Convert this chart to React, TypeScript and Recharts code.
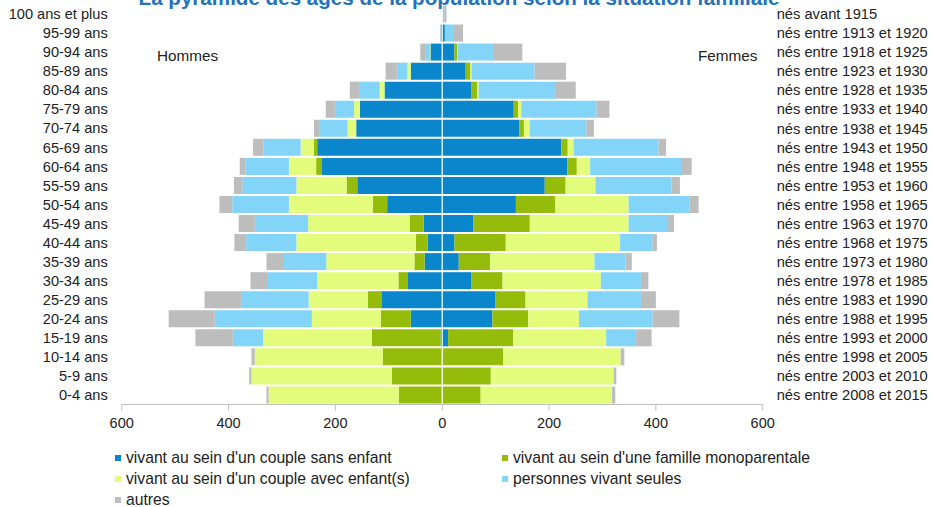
import React from 'react';
import { BarChart, Bar, XAxis, YAxis, ReferenceLine } from 'recharts';

// Age groups, youngest first (drawn bottom to top)
const ageGroups = [
  '0-4 ans', '5-9 ans', '10-14 ans', '15-19 ans', '20-24 ans', '25-29 ans',
  '30-34 ans', '35-39 ans', '40-44 ans', '45-49 ans', '50-54 ans', '55-59 ans',
  '60-64 ans', '65-69 ans', '70-74 ans', '75-79 ans', '80-84 ans', '85-89 ans',
  '90-94 ans', '95-99 ans', '100 ans et plus',
];

const cohorts = [
  'nés entre 2008 et 2015', 'nés entre 2003 et 2010', 'nés entre 1998 et 2005',
  'nés entre 1993 et 2000', 'nés entre 1988 et 1995', 'nés entre 1983 et 1990',
  'nés entre 1978 et 1985', 'nés entre 1973 et 1980', 'nés entre 1968 et 1975',
  'nés entre 1963 et 1970', 'nés entre 1958 et 1965', 'nés entre 1953 et 1960',
  'nés entre 1948 et 1955', 'nés entre 1943 et 1950', 'nés entre 1938 et 1945',
  'nés entre 1933 et 1940', 'nés entre 1928 et 1935', 'nés entre 1923 et 1930',
  'nés entre 1918 et 1925', 'nés entre 1913 et 1920', 'nés avant 1915',
];

// Hommes
const menCoupleSansEnfant = [0, 0, 0, 3, 59, 114, 64, 33, 27, 35, 103, 159, 225, 234, 161, 154, 108, 59, 22, 2, 0];
const menMonoparentale = [81, 94, 111, 129, 56, 25, 18, 19, 22, 26, 27, 20, 11, 6, 0, 0, 0, 0, 0, 0, 0];
const menCoupleAvecEnfants = [244, 263, 240, 203, 129, 111, 152, 165, 224, 190, 157, 94, 51, 25, 16, 11, 9, 6, 1, 0, 0];
const menSeuls = [0, 0, 0, 57, 182, 125, 94, 81, 94, 100, 106, 101, 81, 70, 52, 36, 39, 20, 9, 1, 0];
const menAutres = [4, 4.5, 6, 70, 86, 70, 31, 31, 22, 30, 24, 16, 11, 19, 11, 17, 17, 21, 9, 1, 0.5];

// Femmes
const womenCoupleSansEnfant = [0, 0, 0, 11, 94, 100, 55, 31, 23, 58, 138, 192, 234, 223, 144, 134, 55, 44, 23, 5, 0];
const womenMonoparentale = [72, 91, 114, 122, 67, 56, 58, 59, 96, 106, 74, 39, 18, 12, 9, 8, 11, 9, 5, 0, 0];
const womenCoupleAvecEnfants = [246, 230, 220, 174, 95, 116, 184, 195, 214, 185, 137, 56, 25, 11, 11, 6, 2, 2, 1, 0, 0];
const womenSeules = [0, 0, 0, 56, 138, 100, 75, 58, 61, 72, 114, 142, 172, 159, 106, 141, 143, 118, 66, 17, 4];
const womenAutres = [6, 5, 7, 29, 50, 28, 14, 12, 8, 13, 17, 16, 18, 14, 14, 24, 39, 59, 55, 17, 4];

const xTicks = [-600, -400, -200, 0, 200, 400, 600];

const categories = [
  { key: 'sansEnfant', label: "vivant au sein d'un couple sans enfant", color: '#0A86CD' },
  { key: 'mono', label: "vivant au sein d'une famille monoparentale", color: '#95BC0A' },
  { key: 'avecEnfants', label: "vivant au sein d'un couple avec enfant(s)", color: '#E4FC7C' },
  { key: 'seuls', label: 'personnes vivant seules', color: '#82D5F8' },
  { key: 'autres', label: 'autres', color: '#BDBDBD' },
];

const menSeries = [menCoupleSansEnfant, menMonoparentale, menCoupleAvecEnfants, menSeuls, menAutres];
const womenSeries = [womenCoupleSansEnfant, womenMonoparentale, womenCoupleAvecEnfants, womenSeules, womenAutres];

const data = ageGroups.map((age, i) => {
  const row: Record<string, string | number> = { age, cohort: cohorts[i] };
  categories.forEach((c, k) => {
    row['h_' + c.key] = -menSeries[k][i];
    row['f_' + c.key] = womenSeries[k][i];
  });
  return row;
});

const FONT = '"Liberation Sans", Arial, sans-serif';
const TEXT = '#222222';

// legend layout: two columns, three rows
const legendOrder = [
  { cat: categories[0], col: 0, row: 0 },
  { cat: categories[1], col: 1, row: 0 },
  { cat: categories[2], col: 0, row: 1 },
  { cat: categories[3], col: 1, row: 1 },
  { cat: categories[4], col: 0, row: 2 },
];

export default function App() {
  return (
    <div style={{ position: 'absolute', left: 0, top: 0, width: 932, height: 507, background: '#fff', fontFamily: FONT, overflow: 'hidden' }}>
      <BarChart
        width={932}
        height={507}
        data={data}
        layout="vertical"
        stackOffset="sign"
        barCategoryGap={1}
        margin={{ top: 4.5, right: 0, left: 6, bottom: 72.5 }}
      >
        <XAxis
          type="number"
          domain={[-600, 600]}
          ticks={xTicks}
          tickFormatter={(v: number) => String(Math.abs(v))}
          height={30}
          axisLine={{ stroke: '#BFBFBF' }}
          tickLine={{ stroke: '#BFBFBF' }}
          tickSize={6}
          tickMargin={7}
          tick={{ fill: TEXT, fontSize: 14.5, fontFamily: FONT }}
        />
        <YAxis
          yAxisId="left"
          type="category"
          dataKey="age"
          reversed
          orientation="left"
          width={115.7}
          axisLine={false}
          tickLine={false}
          tickSize={0}
          tickMargin={14}
          interval={0}
          tick={{ fill: TEXT, fontSize: 14.6, fontFamily: FONT }}
        />
        <YAxis
          yAxisId="right"
          type="category"
          dataKey="cohort"
          reversed
          orientation="right"
          width={169.3}
          axisLine={false}
          tickLine={false}
          tickSize={0}
          tickMargin={14}
          interval={0}
          tick={{ fill: TEXT, fontSize: 14.7, fontFamily: FONT, textAnchor: 'start' }}
        />
        {categories.map((c) => (
          <Bar key={'h_' + c.key} dataKey={'h_' + c.key} yAxisId="left" stackId="p" fill={c.color} isAnimationActive={false} />
        ))}
        {categories.map((c) => (
          <Bar key={'f_' + c.key} dataKey={'f_' + c.key} yAxisId="left" stackId="p" fill={c.color} isAnimationActive={false} />
        ))}
        <ReferenceLine x={0} yAxisId="left" stroke="#FFFFFF" strokeWidth={1.2} />
      </BarChart>

      <svg width={932} height={507} style={{ position: 'absolute', left: 0, top: 0, pointerEvents: 'none' }}>
        <text x={459} y={4.5} textAnchor="middle" fontFamily={FONT} fontWeight="bold" fontSize={20.6} fill="#1F72C0">
          La pyramide des âges de la population selon la situation familiale
        </text>
        <text x={157} y={60.5} fontFamily={FONT} fontSize={15.3} fill={TEXT}>Hommes</text>
        <text x={698} y={60.5} fontFamily={FONT} fontSize={15.3} fill={TEXT}>Femmes</text>
      </svg>

      {legendOrder.map(({ cat, col, row }) => (
        <div
          key={cat.key}
          style={{
            position: 'absolute',
            left: col === 0 ? 115 : 502,
            top: 448 + row * 20.8,
            height: 20,
            display: 'flex',
            alignItems: 'center',
            fontSize: 15.7,
            color: TEXT,
            whiteSpace: 'nowrap',
          }}
        >
          <span style={{ display: 'inline-block', width: 6, height: 6, background: cat.color, marginRight: 5 }} />
          {cat.label}
        </div>
      ))}
    </div>
  );
}
